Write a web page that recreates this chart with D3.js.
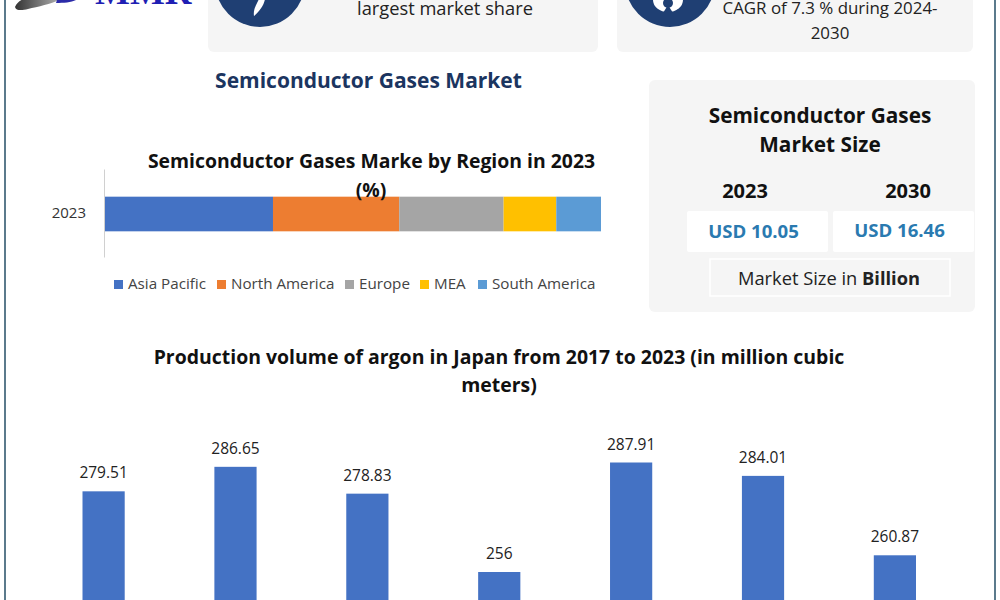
<!DOCTYPE html>
<html>
<head>
<meta charset="utf-8">
<script src="https://cdn.jsdelivr.net/npm/d3@7"></script>
<style>
  html, body { margin: 0; padding: 0; background: #fff; overflow: hidden; }
  text { font-family: "Open Sans", sans-serif; }
</style>
</head>
<body>
<div id="chart_area"></div>
<script>
// region share, 2023 (%)
var regions = ["Asia Pacific", "North America", "Europe", "MEA", "South America"];
var regionShare = [34, 25.4, 21, 10.6, 9];
var regionColors = ["#4472c4", "#ed7d31", "#a5a5a5", "#ffc000", "#5b9bd5"];
var regionYears = ["2023"];

// argon production in Japan
var years = ["2017", "2018", "2019", "2020", "2021", "2022", "2023"];
var argon = [279.51, 286.65, 278.83, 256, 287.91, 284.01, 260.87];

// market size card
var sizeYears = ["2023", "2030"];
var sizeValues = ["USD 10.05", "USD 16.46"];

var svg = d3.select("#chart_area")
    .append("svg")
    .attr("width", 1000)
    .attr("height", 600)
    .style("display", "block");

function addText(x, y, str, size, weight, color, anchor) {
    return svg.append("text")
        .attr("x", x)
        .attr("y", y)
        .attr("font-size", size)
        .attr("font-weight", weight || 400)
        .attr("fill", color || "#111")
        .attr("text-anchor", anchor || "middle")
        .text(str);
}

function panel(x, y, w, h, fill) {
    return svg.append("rect")
        .attr("x", x).attr("y", y)
        .attr("width", w).attr("height", h)
        .attr("rx", 6)
        .attr("fill", fill || "#f5f5f5");
}

// page frame
svg.append("line").attr("x1", 5).attr("x2", 5).attr("y1", 0).attr("y2", 600)
    .attr("stroke", "#5b7a8c").attr("stroke-width", 2);
svg.append("line").attr("x1", 995).attr("x2", 995).attr("y1", 0).attr("y2", 600)
    .attr("stroke", "#5b7a8c").attr("stroke-width", 2);

// logo, cut off by the top edge
var grad = svg.append("defs").append("linearGradient").attr("id", "swoosh");
grad.append("stop").attr("offset", "0%").attr("stop-color", "#333");
grad.append("stop").attr("offset", "100%").attr("stop-color", "#b5b5b5");
svg.append("path")
    .attr("d", "M15 7 C18 0 26 -3 34 -3 L62 -3 C58 3 40 6 28 9 C22 10.5 16 11 15 7 Z")
    .attr("fill", "url(#swoosh)");
svg.append("path")
    .attr("d", "M58 -3 L80 -3 C76 2 66 3 56 3 Z")
    .attr("fill", "#2b2ba8");
addText(95, 4, "MMR", 37, 700, "#1f1fb4", "start")
    .style("font-family", "'Liberation Serif', serif");

// top cards
panel(208, -20, 390, 72);
panel(617, -20, 356, 72);
svg.append("circle").attr("cx", 260).attr("cy", -18).attr("r", 45).attr("fill", "#1f3f73");
svg.append("circle").attr("cx", 670).attr("cy", -18).attr("r", 45).attr("fill", "#1f3f73");
svg.append("path")
    .attr("d", "M265 -1 C264 5 260 11 254 16 C253 10 256 5 259 -1 Z")
    .attr("fill", "#fff");
svg.append("ellipse").attr("cx", 668).attr("cy", 0).attr("rx", 15).attr("ry", 12).attr("fill", "#fff");
svg.append("circle").attr("cx", 668).attr("cy", 3).attr("r", 5).attr("fill", "#1f3f73");
svg.append("path").attr("d", "M668 5 L663 13 L673 13 Z").attr("fill", "#1f3f73");
addText(445, 15, "largest market share", 18.3, 400, "#222");
addText(830, 14, "CAGR of 7.3 % during 2024-", 16.9, 400, "#222");
addText(830, 39, "2030", 16.9, 400, "#222");

addText(368.5, 88, "Semiconductor Gases Market", 21, 700, "#1b3560");

// stacked region bar
var stackRow = {};
regions.forEach(function (r, i) { stackRow[r] = regionShare[i]; });
var stacked = d3.stack().keys(regions)([stackRow]);

var xShare = d3.scaleLinear()
    .domain([0, d3.sum(regionShare)])
    .range([104, 601]);
var yShare = d3.scaleBand()
    .domain(regionYears)
    .range([170, 258])
    .padding(0.435);
var color = d3.scaleOrdinal().domain(regions).range(regionColors);

addText(371.5, 168, "Semiconductor Gases Marke by Region in 2023", 19.4, 700, "#111");

svg.append("g")
    .selectAll("rect")
    .data(stacked)
    .enter()
    .append("rect")
    .attr("x", function (d) { return xShare(d[0][0]); })
    .attr("width", function (d) { return xShare(d[0][1]) - xShare(d[0][0]); })
    .attr("y", function (d) { return yShare("2023"); })
    .attr("height", yShare.bandwidth())
    .attr("fill", function (d) { return color(d.key); });

addText(371, 197, "(%)", 19.4, 700, "#111");

var yAxis = svg.append("g")
    .attr("transform", "translate(104,-1)")
    .call(d3.axisLeft(yShare).tickSize(0).tickPadding(18));
yAxis.select(".domain").attr("stroke", "#d0d0d0");
yAxis.selectAll("text").attr("font-size", 15).attr("fill", "#333");

// legend
var legendX = [114, 217, 345, 420, 478];
var legend = svg.append("g")
    .selectAll("g")
    .data(regions)
    .enter()
    .append("g")
    .attr("transform", function (d, i) { return "translate(" + legendX[i] + ",284)"; });
legend.append("rect")
    .attr("y", -4).attr("width", 9).attr("height", 9)
    .attr("fill", function (d) { return color(d); });
legend.append("text")
    .attr("x", 14).attr("y", 5)
    .attr("font-size", 15.2)
    .attr("fill", "#444")
    .text(function (d) { return d; });

// market size card
panel(649, 80, 326, 232);
addText(820, 123, "Semiconductor Gases", 20.8, 700, "#111");
addText(820, 152, "Market Size", 20.8, 700, "#111");
var cardX = d3.scaleOrdinal().domain(sizeYears).range([745, 908]);
var boxX = d3.scaleOrdinal().domain(sizeYears).range([687, 833]);
sizeYears.forEach(function (yr, i) {
    addText(cardX(yr), 198, yr, 20, 700, "#111");
    panel(boxX(yr), 211, 141, 41, "#fff").attr("rx", 2);
    addText(boxX(yr) + 66.5, 238 - i, sizeValues[i], 18.6, 700, "#2a7ab0");
});
svg.append("rect")
    .attr("x", 710).attr("y", 259)
    .attr("width", 240).attr("height", 37)
    .attr("fill", "#f5f5f5")
    .attr("stroke", "#fff").attr("stroke-width", 1.5);
var sizeNote = addText(829, 285, "Market Size in ", 18.3, 400, "#222");
sizeNote.append("tspan").attr("font-weight", 700).text("Billion");

// argon bar chart, bars run past the bottom of the picture
addText(499, 364, "Production volume of argon in Japan from 2017 to 2023 (in million cubic", 19.45, 700, "#111");
addText(499, 392, "meters)", 19.45, 700, "#111");

var x = d3.scaleBand()
    .domain(years)
    .range([82.5, 916])
    .paddingInner(0.68)
    .paddingOuter(0);
var y = d3.scaleLinear()
    .domain([256, 287.91])
    .range([572, 462.5]);
var base = 245;

svg.selectAll("rect.bar")
    .data(argon)
    .enter()
    .append("rect")
    .attr("class", "bar")
    .attr("x", function (d, i) { return x(years[i]); })
    .attr("y", function (d) { return y(d); })
    .attr("width", x.bandwidth())
    .attr("height", function (d) { return y(base) - y(d); })
    .attr("fill", "#4472c4");

svg.selectAll("text.val")
    .data(argon)
    .enter()
    .append("text")
    .attr("class", "val")
    .attr("x", function (d, i) { return x(years[i]) + x.bandwidth() / 2; })
    .attr("y", function (d) { return y(d) - 13; })
    .attr("text-anchor", "middle")
    .attr("font-size", 15.5)
    .attr("fill", "#222")
    .text(function (d) { return d; });
</script>
</body>
</html>
